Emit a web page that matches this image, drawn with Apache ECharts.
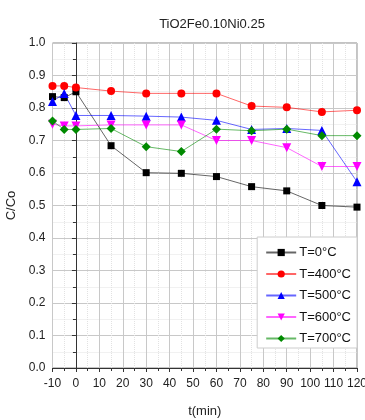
<!DOCTYPE html>
<html><head><meta charset="utf-8">
<script src="https://cdn.jsdelivr.net/npm/echarts@6/dist/echarts.min.js"></script>
<style>html,body{margin:0;padding:0;background:#fff}#c{width:365px;height:420px}</style>
</head><body><div id="c"></div>
<script>
var times = [-10, -5, 0, 15, 30, 45, 60, 75, 90, 105, 120];
var t0   = [0.835, 0.832, 0.850, 0.684, 0.601, 0.599, 0.589, 0.558, 0.545, 0.500, 0.495];
var t400 = [0.868, 0.868, 0.863, 0.852, 0.845, 0.845, 0.845, 0.806, 0.802, 0.788, 0.793];
var t500 = [0.820, 0.845, 0.777, 0.777, 0.775, 0.772, 0.762, 0.734, 0.737, 0.731, 0.573];
var t600 = [0.750, 0.745, 0.745, 0.748, 0.748, 0.748, 0.700, 0.700, 0.678, 0.620, 0.620];
var t700 = [0.760, 0.734, 0.734, 0.737, 0.681, 0.666, 0.735, 0.730, 0.735, 0.715, 0.715];
var names = ['T=0°C', 'T=400°C', 'T=500°C', 'T=600°C', 'T=700°C'];
var titleText = 'TiO2Fe0.10Ni0.25';

function pairs(v){ return times.map(function(t,i){ return [t, v[i]]; }); }
function mk(name, data, color, symbol, size, rot){
  return {
    name: name, type: 'line', data: pairs(data),
    symbol: symbol, symbolSize: size, symbolRotate: rot || 0,
    itemStyle: {color: color},
    lineStyle: {color: color, width: 1, opacity: 0.6},
    emphasis: {disabled: true}, animation: false
  };
}
var font = 'Liberation Sans';
var chart = echarts.init(document.getElementById('c'));
chart.setOption({
  animation: false,
  textStyle: {fontFamily: font},
  title: {text: titleText, left: 207, top: 13, textAlign: 'center',
    textStyle: {fontFamily: font, fontSize: 13, fontWeight: 'normal', color: '#222'}},
  grid: {left: 52.5, right: 8, top: 43, bottom: 52, show: true, borderColor: '#888', borderWidth: 1,
    containLabel: false, outerBoundsMode: 'none'},
  legend: {
    orient: 'vertical', right: 8, top: 237,
    itemWidth: 30, itemHeight: 9, itemGap: 8.5,
    backgroundColor: '#fff', borderColor: '#ccc', borderWidth: 1,
    padding: [9, 6, 3, 8],
    textStyle: {fontFamily: font, fontSize: 13, color: '#111', padding: [0,0,0,-2]},
    data: names
  },
  xAxis: {
    type: 'value', min: -10, max: 120, interval: 10,
    name: 't(min)', nameLocation: 'middle', nameGap: 37,
    nameTextStyle: {fontFamily: font, fontSize: 13, color: '#222'},
    axisLine: {show: true, lineStyle: {color: '#333'}},
    axisTick: {show: true, inside: false, length: 4, lineStyle: {color: '#333'}},
    minorTick: {show: true, splitNumber: 2, length: 3, lineStyle: {color: '#333'}},
    axisLabel: {fontFamily: font, fontSize: 12, color: '#222', margin: 10},
    splitLine: {show: true, lineStyle: {color: '#c8c8c8'}},
    minorSplitLine: {show: true, lineStyle: {color: '#e2e2e2', type: 'dotted'}}
  },
  yAxis: {
    type: 'value', min: 0, max: 1, interval: 0.1,
    name: 'C/Co', nameLocation: 'middle', nameGap: 33, nameRotate: 90,
    nameTextStyle: {fontFamily: font, fontSize: 13, color: '#222'},
    axisLine: {show: true, lineStyle: {color: '#333'}},
    axisTick: {show: true, inside: false, length: 4, lineStyle: {color: '#333'}},
    minorTick: {show: true, splitNumber: 2, length: 3, lineStyle: {color: '#333'}},
    axisLabel: {fontFamily: font, fontSize: 12, color: '#222', margin: 7,
      formatter: function(v){ return v.toFixed(1); }},
    splitLine: {show: true, lineStyle: {color: '#c8c8c8'}},
    minorSplitLine: {show: true, lineStyle: {color: '#e2e2e2', type: 'dotted'}}
  },
  series: [
    mk(names[0], t0, '#000000', 'rect', 7),
    mk(names[1], t400, '#ff0000', 'circle', 8),
    mk(names[2], t500, '#0000ff', 'triangle', 9),
    mk(names[3], t600, '#ff00ff', 'triangle', 9, 180),
    mk(names[4], t700, '#008a00', 'diamond', 9)
  ]
});
</script></body></html>
